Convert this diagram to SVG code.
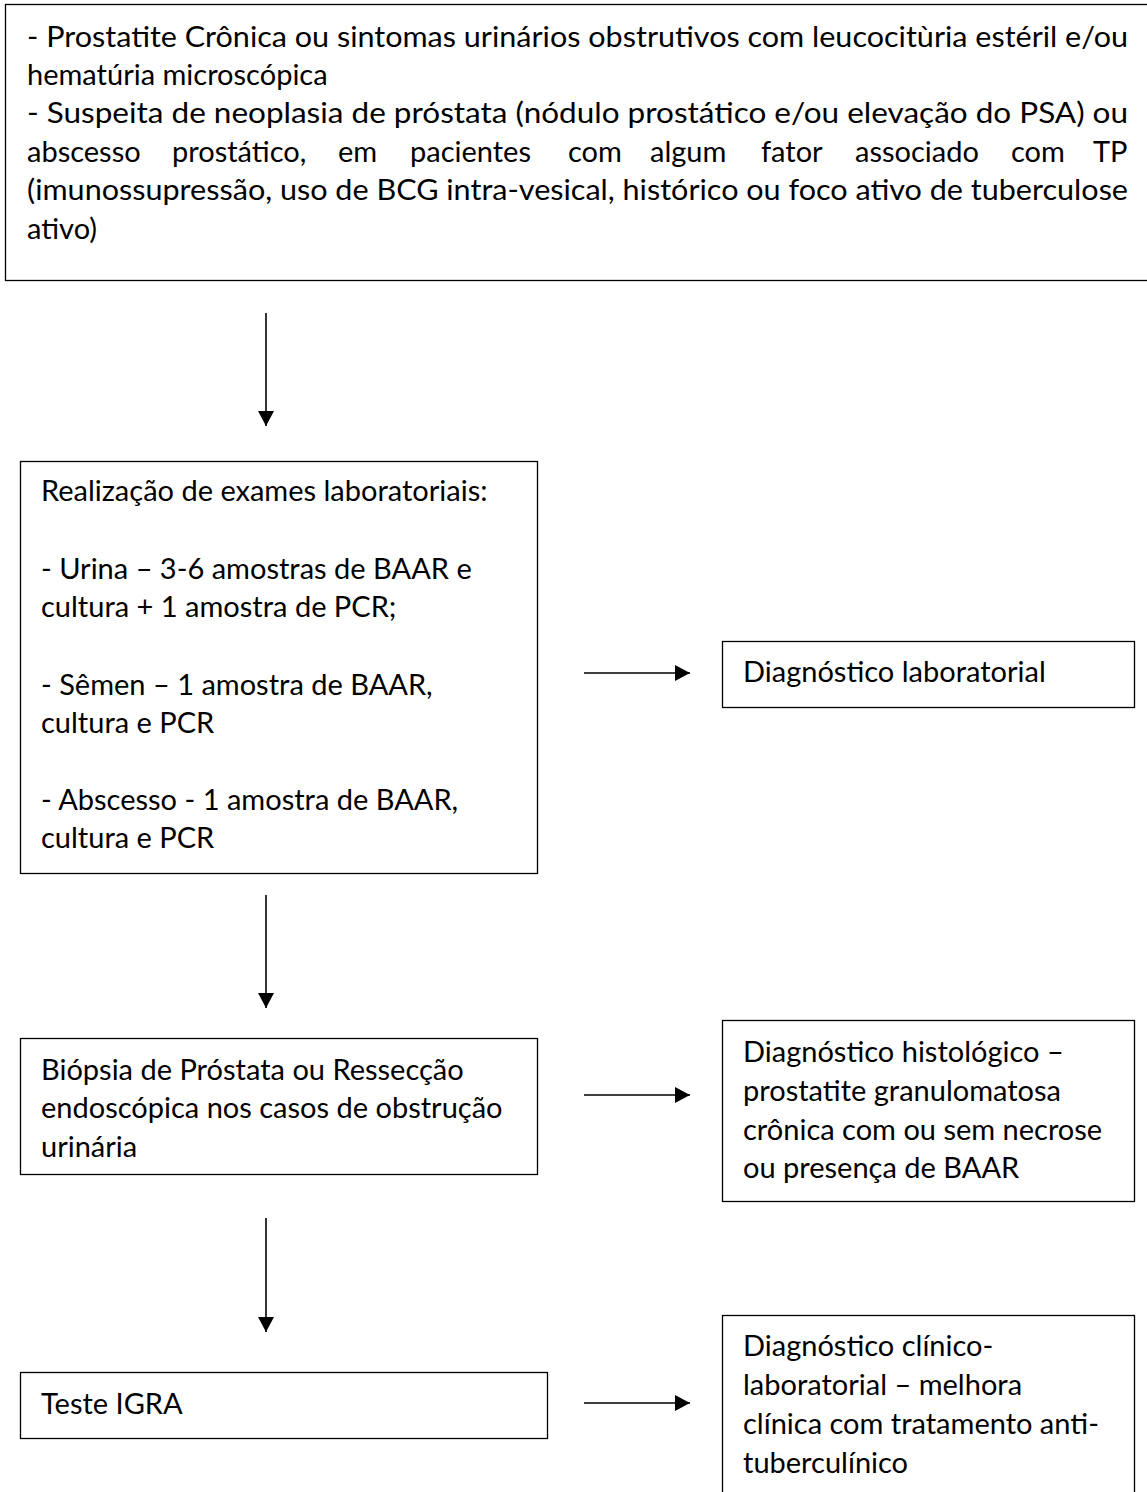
<svg xmlns="http://www.w3.org/2000/svg" width="1147" height="1492" viewBox="0 0 1147 1492">
<style>
  .box{fill:#fff;stroke:#000;stroke-width:1.3}
  .t{font-family:Lato,"Open Sans",sans-serif;font-size:29px;fill:#000}
  .c{stroke:#000;stroke-width:1.6;fill:none}
</style>
<defs>
  <marker id="ah" markerUnits="userSpaceOnUse" markerWidth="16" markerHeight="16" refX="15" refY="8" orient="auto">
    <path d="M0,0 L15,8 L0,16 Z" fill="#000"/>
  </marker>
</defs>
<rect width="1147" height="1492" fill="#fff"/>
<g id="n1">
  <rect class="box" x="5.5" y="4.5" width="1150" height="276"/>
  <text class="t" x="27" y="47" textLength="1101" lengthAdjust="spacingAndGlyphs">- Prostatite Crônica ou sintomas urinários obstrutivos com leucocitùria estéril e/ou</text>
  <text class="t" x="27" y="85">hematúria microscópica</text>
  <text class="t" x="27" y="123" textLength="1101" lengthAdjust="spacingAndGlyphs">- Suspeita de neoplasia de próstata (nódulo prostático e/ou elevação do PSA) ou</text>
  <text class="t" y="162"><tspan x="27">abscesso</tspan> <tspan x="172">prostático,</tspan> <tspan x="338">em</tspan> <tspan x="410">pacientes</tspan> <tspan x="568">com</tspan> <tspan x="650">algum</tspan> <tspan x="761">fator</tspan> <tspan x="855">associado</tspan> <tspan x="1011">com</tspan> <tspan x="1093">TP</tspan></text>
  <text class="t" x="27" y="200" textLength="1101" lengthAdjust="spacingAndGlyphs">(imunossupressão, uso de BCG intra-vesical, histórico ou foco ativo de tuberculose</text>
  <text class="t" x="27" y="239">ativo)</text>
</g>
<g id="n2">
  <rect class="box" x="20.5" y="461.5" width="517" height="412"/>
  <text class="t" x="41" y="501">Realização de exames laboratoriais:</text>
  <text class="t" x="41" y="579">- Urina – 3-6 amostras de BAAR e</text>
  <text class="t" x="41" y="617">cultura + 1 amostra de PCR;</text>
  <text class="t" x="41" y="695">- Sêmen – 1 amostra de BAAR,</text>
  <text class="t" x="41" y="733">cultura e PCR</text>
  <text class="t" x="41" y="810">- Abscesso - 1 amostra de BAAR,</text>
  <text class="t" x="41" y="848">cultura e PCR</text>
</g>
<g id="n3">
  <rect class="box" x="722.5" y="641.5" width="412" height="66"/>
  <text class="t" x="743" y="682">Diagnóstico laboratorial</text>
</g>
<g id="n4">
  <rect class="box" x="20.5" y="1038.5" width="517" height="136"/>
  <text class="t" x="41" y="1080">Biópsia de Próstata ou Ressecção</text>
  <text class="t" x="41" y="1118">endoscópica nos casos de obstrução</text>
  <text class="t" x="41" y="1157">urinária</text>
</g>
<g id="n5">
  <rect class="box" x="722.5" y="1020.5" width="412" height="181"/>
  <text class="t" x="743" y="1062">Diagnóstico histológico –</text>
  <text class="t" x="743" y="1101">prostatite granulomatosa</text>
  <text class="t" x="743" y="1140">crônica com ou sem necrose</text>
  <text class="t" x="743" y="1178">ou presença de BAAR</text>
</g>
<g id="n6">
  <rect class="box" x="20.5" y="1372.5" width="527" height="66"/>
  <text class="t" x="41" y="1414">Teste IGRA</text>
</g>
<g id="n7">
  <rect class="box" x="722.5" y="1315.5" width="412" height="200"/>
  <text class="t" x="743" y="1356">Diagnóstico clínico-</text>
  <text class="t" x="743" y="1395">laboratorial – melhora</text>
  <text class="t" x="743" y="1434">clínica com tratamento anti-</text>
  <text class="t" x="743" y="1473">tuberculínico</text>
</g>
<g id="connectors">
  <line class="c" x1="266" y1="313" x2="266" y2="426" marker-end="url(#ah)"/>
  <line class="c" x1="266" y1="895" x2="266" y2="1008" marker-end="url(#ah)"/>
  <line class="c" x1="266" y1="1218" x2="266" y2="1332" marker-end="url(#ah)"/>
  <line class="c" x1="584" y1="673" x2="690" y2="673" marker-end="url(#ah)"/>
  <line class="c" x1="584" y1="1095" x2="690" y2="1095" marker-end="url(#ah)"/>
  <line class="c" x1="584" y1="1403" x2="690" y2="1403" marker-end="url(#ah)"/>
</g>
</svg>
